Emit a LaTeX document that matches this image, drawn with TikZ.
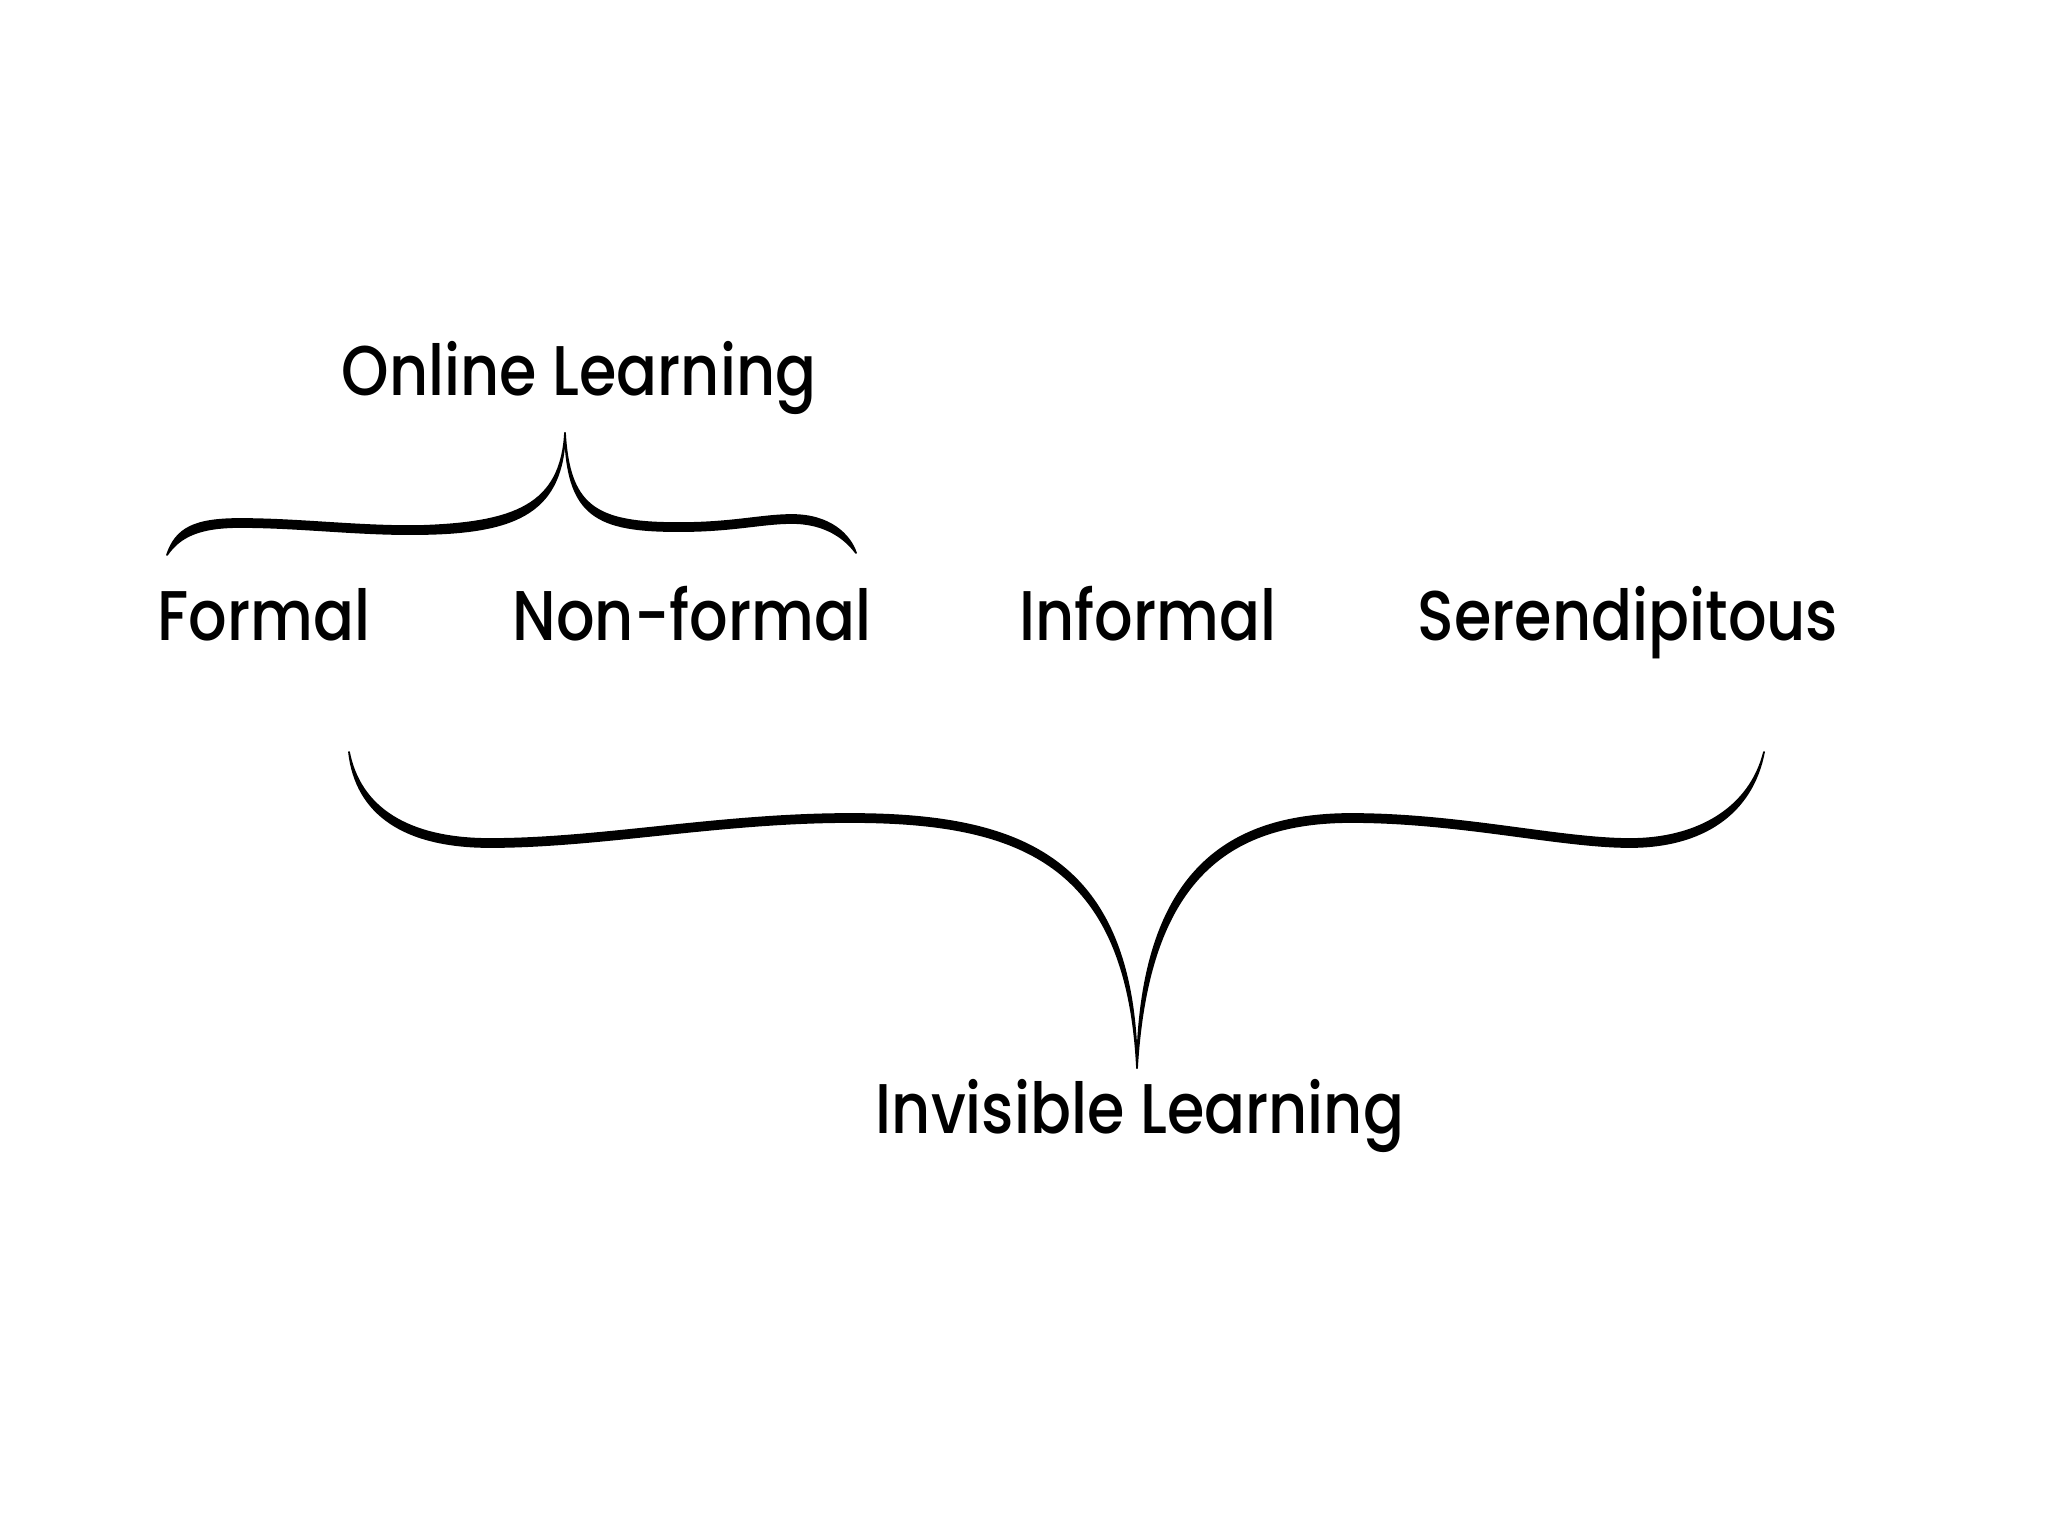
\documentclass[tikz,border=0pt]{standalone}
\usepackage{fontspec}
\setmainfont{Poppins}[FakeStretch=0.86,UprightFont={* Medium}]

\tikzset{
  term/.style={font=\fontsize{20pt}{24pt}\selectfont, anchor=base, inner sep=0pt},
  brace/.style={fill=black, draw=black, line width=0.5pt, line join=round}
}

\begin{document}
\begin{tikzpicture}[x=0.01cm,y=-0.01cm]
\useasboundingbox (0,0) rectangle (2048,1536);
% labels
\node[term] (online) at (579,395) {Online Learning};
\node[term] (formal) at (264,640) {Formal};
\node[term] (nonformal) at (692,640) {Non-formal};
\node[term] (informal) at (1148,640) {Informal};
\node[term] (seren) at (1628,640) {Serendipitous};
\node[term] (invisible) at (1140,1133) {Invisible Learning};
% upper brace
\coordinate (olL) at (167,555);
\coordinate (olTip) at (565,433);
\coordinate (olR) at (856,553);
\filldraw[brace] (olL) .. controls (176,528) and (195,519) .. (240,519) .. controls (300,519) and (360,527) .. (420,526) .. controls (515,523) and (561,505) .. (olTip) .. controls (563,510) and (520,533) .. (420,534) .. controls (360,535) and (300,527) .. (240,527) .. controls (200,527) and (180,536) .. (olL) -- cycle;
\filldraw[brace] (olTip) .. controls (569,505) and (595,522) .. (670,523) .. controls (730,524) and (760,515) .. (792,515) .. controls (830,515) and (850,535) .. (olR) .. controls (845,538) and (825,523) .. (792,523) .. controls (760,523) and (730,532) .. (670,531) .. controls (593,530) and (567,512) .. (olTip) -- cycle;
% lower brace
\coordinate (ilL) at (349,752);
\coordinate (ilTip) at (1137,1068);
\coordinate (ilR) at (1764,752);
\filldraw[brace] (ilL) .. controls (360,808) and (408,839) .. (490,839) .. controls (600,839) and (720,814) .. (850,814) .. controls (1022,814) and (1134,858) .. (ilTip) .. controls (1127,862) and (1018,822) .. (850,822) .. controls (720,822) and (600,847) .. (490,847) .. controls (404,847) and (356,814) .. (ilL) -- cycle;
\filldraw[brace] (ilTip) .. controls (1140,880) and (1220,814) .. (1351,814) .. controls (1460,814) and (1560,839) .. (1630,839) .. controls (1698,839) and (1750,808) .. (ilR) .. controls (1752,814) and (1702,847) .. (1630,847) .. controls (1560,847) and (1460,822) .. (1351,822) .. controls (1226,822) and (1148,882) .. (ilTip) -- cycle;
\end{tikzpicture}
\end{document}
